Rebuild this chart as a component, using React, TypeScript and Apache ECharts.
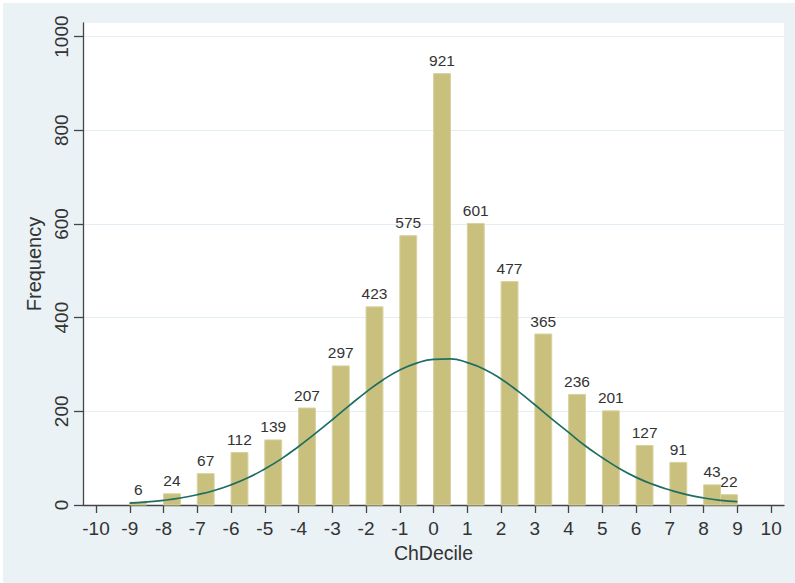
import React, { useEffect, useRef } from "react";
import * as echarts from "echarts";

// Histogram bins (start of each bin) and frequencies
const binStarts = [-9, -8, -7, -6, -5, -4, -3, -2, -1, 0, 1, 2, 3, 4, 5, 6, 7, 8, 8.5];
const frequencies = [6, 24, 67, 112, 139, 207, 297, 423, 575, 921, 601, 477, 365, 236, 201, 127, 91, 43, 22];
const binWidth = 0.5;

// Normal density overlay
const curveX = [-9, -8.5, -8, -7.5, -7, -6.5, -6, -5.5, -5, -4.5, -4, -3.5, -3, -2.5, -2, -1.5, -1, -0.5, 0, 0.5, 1, 1.5, 2, 2.5, 3, 3.5, 4, 4.5, 5, 5.5, 6, 6.5, 7, 7.5, 8, 8.5, 9];
const curveY = [4, 6.5, 10, 15, 22, 31, 43, 58, 77, 99, 125, 153, 182, 212, 241, 267, 288, 303, 311, 312, 304, 290, 269, 243, 214, 184, 155, 126, 101, 78, 59, 44, 32, 22, 15, 10, 7];

const xTicks = [-10, -9, -8, -7, -6, -5, -4, -3, -2, -1, 0, 1, 2, 3, 4, 5, 6, 7, 8, 9, 10];
const yTicks = [0, 200, 400, 600, 800, 1000];

const FONT = '"Liberation Sans", Arial, Helvetica, sans-serif';

export default function App() {
  const ref = useRef<HTMLDivElement>(null);
  useEffect(() => {
    document.body.style.margin = "0";
    const chart = echarts.init(ref.current!, null, { renderer: "svg" });
    const barData = binStarts.map((s, i) => [s, s + binWidth, frequencies[i]]);
    const lineData = curveX.map((x, i) => [x, curveY[i]]);
    chart.setOption({
      animation: false,
      backgroundColor: "#EAF2F5",
      textStyle: { fontFamily: FONT },
      grid: {
        left: 80,
        right: 11,
        top: 20,
        bottom: 78,
        show: true,
        backgroundColor: "#ffffff",
        borderWidth: 0,
      },
      xAxis: {
        type: "value",
        min: -10.385,
        max: 10.38,
        axisLine: { show: true, onZero: false, lineStyle: { color: "#444", width: 1.3 } },
        axisTick: { show: true, customValues: xTicks, length: 8, lineStyle: { color: "#444", width: 1.3 } },
        axisLabel: {
          customValues: xTicks,
          margin: 14,
          fontSize: 19,
          color: "#333",
          fontFamily: FONT,
          formatter: (v: number) => String(v),
        },
        splitLine: { show: false },
        name: "ChDecile",
        nameLocation: "middle",
        nameGap: 31,
        nameTextStyle: { fontSize: 19.5, color: "#333", fontFamily: FONT },
      },
      yAxis: {
        type: "value",
        min: 0,
        max: 1029,
        interval: 200,
        axisLine: { show: true, onZero: false, lineStyle: { color: "#444", width: 1.3 } },
        axisTick: { show: true, customValues: yTicks, length: 9, lineStyle: { color: "#444", width: 1.3 } },
        axisLabel: {
          customValues: yTicks,
          rotate: 90,
          margin: 12,
          fontSize: 19,
          color: "#333",
          fontFamily: FONT,
          formatter: (v: number) => String(v),
        },
        splitLine: { show: true, lineStyle: { color: "#E2EEF3", width: 1.2 } },
        name: "Frequency",
        nameLocation: "middle",
        nameGap: 35,
        nameTextStyle: { fontSize: 20, color: "#333", fontFamily: FONT },
      },
      series: [
        {
          type: "custom",
          data: barData,
          z: 2,
          renderItem: (params: any, api: any) => {
            const s = api.value(0);
            const e = api.value(1);
            const v = api.value(2);
            const p0 = api.coord([s, v]);
            const p1 = api.coord([e, 0]);
            return {
              type: "group",
              children: [
                {
                  type: "rect",
                  shape: { x: p0[0], y: p0[1], width: p1[0] - p0[0], height: p1[1] - p0[1] },
                  style: { fill: "#C9C07D", stroke: "#D8D29F", lineWidth: 1 },
                },
                {
                  type: "text",
                  x: (p0[0] + p1[0]) / 2,
                  y: p0[1] - 5,
                  style: {
                    text: String(v),
                    fill: "#333",
                    font: `15.5px ${FONT}`,
                    align: "center",
                    verticalAlign: "bottom",
                  },
                },
              ],
            };
          },
        },
        {
          type: "line",
          data: lineData,
          smooth: true,
          showSymbol: false,
          z: 3,
          lineStyle: { color: "#1E6E63", width: 1.7 },
          itemStyle: { color: "#1E6E63" },
        },
      ],
    });
    return () => chart.dispose();
  }, []);
  return (
    <div style={{ position: "absolute", left: 0, top: 0, width: 795, height: 583, background: "#fff" }}>
      <div ref={ref} style={{ position: "absolute", left: 3, top: 3, width: 792, height: 580 }} />
    </div>
  );
}
